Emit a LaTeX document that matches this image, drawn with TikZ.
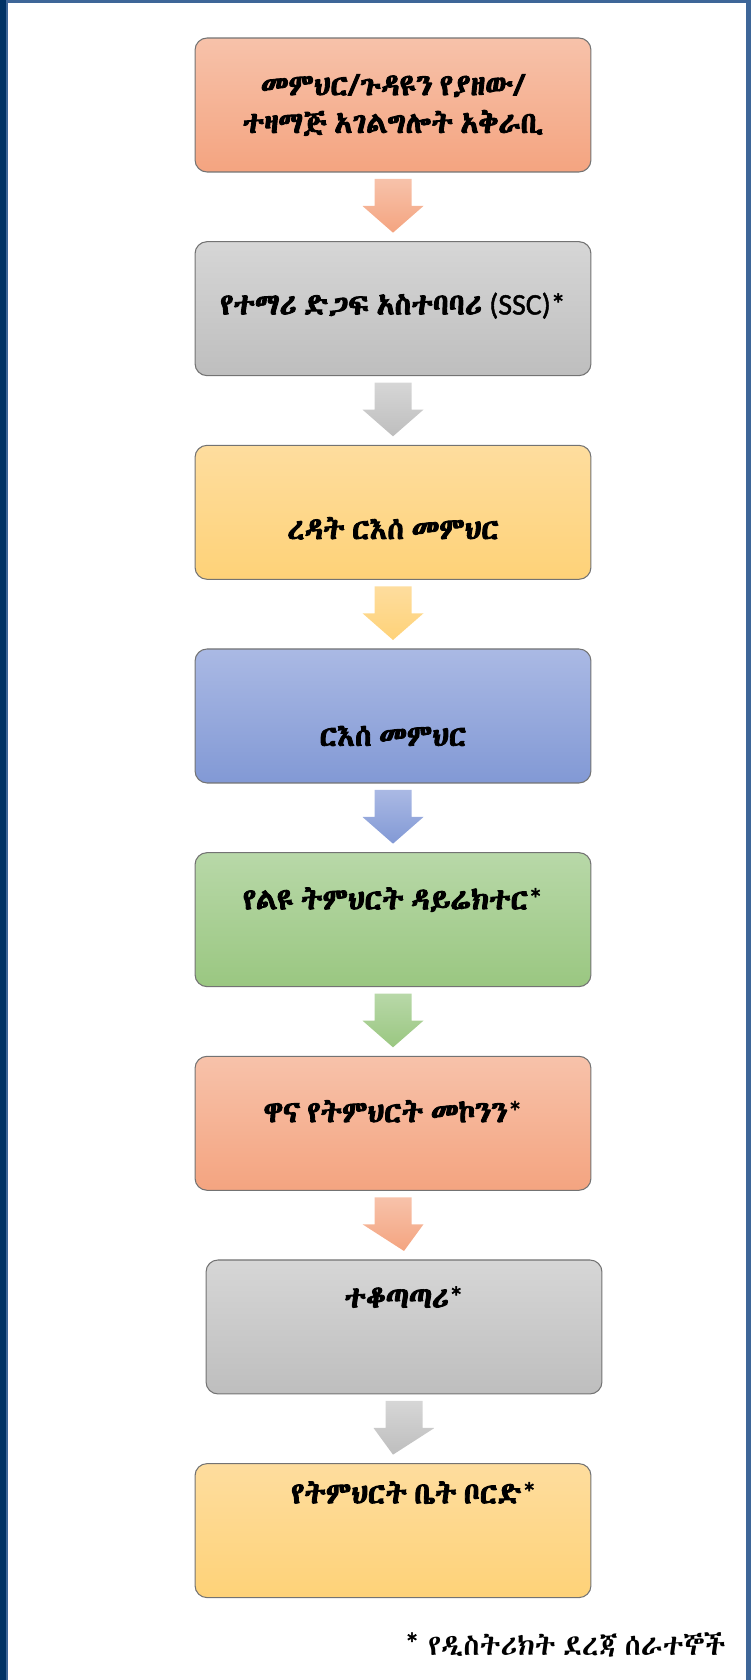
\documentclass[tikz,border=0pt]{standalone}
\usepackage{fontspec}
\usepackage{tikz}
\usetikzlibrary{positioning,calc}
\IfFontExistsTF{Abyssinica SIL}{%
  \newfontfamily\ethfont[AutoFakeBold=3,WordSpace=0.55]{Abyssinica SIL}}{%
  \IfFontExistsTF{FreeSerif}{%
    \newfontfamily\ethfont{FreeSerif}}{%
    \newfontfamily\ethfont{Noto Sans Ethiopic}}}
\newfontfamily\latinfont[FakeBold=1.6]{Carlito}

\definecolor{orangeA}{RGB}{247,194,170}
\definecolor{orangeB}{RGB}{244,164,128}
\definecolor{grayA}{RGB}{214,214,214}
\definecolor{grayB}{RGB}{190,190,190}
\definecolor{yellowA}{RGB}{254,221,158}
\definecolor{yellowB}{RGB}{254,210,120}
\definecolor{blueA}{RGB}{170,185,228}
\definecolor{blueB}{RGB}{130,153,213}
\definecolor{greenA}{RGB}{184,216,168}
\definecolor{greenB}{RGB}{154,199,129}
\definecolor{frameblue}{RGB}{62,102,152}
\definecolor{framenavy}{RGB}{0,50,100}

\tikzset{
  stepbox/.style={draw=gray!90!black, line width=0.6pt, rounded corners=0.24cm,
    minimum width=7.92cm, minimum height=2.68cm, outer sep=0pt,
    top color=#1A, bottom color=#1B},
  boxlabel/.style={font=\ethfont\bfseries\fontsize{17}{19.5}\selectfont, align=center},
  notetext/.style={font=\ethfont\fontsize{16.5}{19}\selectfont}
}

% block arrow between two boxes
\newcommand{\flowarrow}[3]{%
  \shade[top color=#3A, bottom color=#3B]
    ($(#1.south)+(-18.5,7)$) -- ($(#1.south)+(18.5,7)$) -- ($(#1.south)+(18.5,34)$)
    -- ($(#1.south)+(30.5,34)$) -- ($(#2.north)+(0,-9)$) -- ($(#1.south)+(-30.5,34)$)
    -- ($(#1.south)+(-18.5,34)$) -- cycle;}
\newcommand{\boldstar}{{\latinfont\mdseries *}}

\begin{document}
\begin{tikzpicture}[x=0.02cm,y=-0.02cm,node distance=1.394cm]
  \useasboundingbox (0,0) rectangle (751,1680);
  % frame
  \fill[frameblue] (0,0) rectangle (751,3);
  \fill[frameblue] (746,0) rectangle (751,1680);
  \fill[frameblue] (0,0) rectangle (8,1680);
  \fill[framenavy] (0,0) rectangle (6,1680);

  % boxes
  \node[stepbox=orange] (b1) at (393,105) {};
  \node[stepbox=gray, below=of b1] (b2) {};
  \node[stepbox=yellow, below=of b2] (b3) {};
  \node[stepbox=blue, below=of b3] (b4) {};
  \node[stepbox=green, below=of b4] (b5) {};
  \node[stepbox=orange, below=of b5] (b6) {};
  \node[stepbox=gray, below=of b6, xshift=0.22cm] (b7) {};
  \node[stepbox=yellow, below=of b7, xshift=-0.22cm] (b8) {};

  % texts
  \node[boxlabel] (t1) at (b1.center) {መምህር/ጉዳዩን የያዘው/\\[2pt]ተዛማጅ አገልግሎት አቅራቢ};
  \node[boxlabel] (t2) at ([yshift=0.06cm]b2.center) {የተማሪ ድጋፍ አስተባባሪ {\latinfont\mdseries (SSC)*}};
  \node[boxlabel] (t3) at ([yshift=-0.32cm]b3.center) {ረዳት ርእሰ መምህር};
  \node[boxlabel] (t4) at ([yshift=-0.4cm]b4.center) {ርእሰ መምህር};
  \node[boxlabel] (t5) at ([yshift=0.4cm]b5.center) {የልዩ ትምህርት ዳይሬክተር\boldstar};
  \node[boxlabel] (t6) at ([yshift=0.24cm]b6.center) {ዋና የትምህርት መኮንን\boldstar};
  \node[boxlabel] (t7) at ([yshift=0.6cm]b7.center) {ተቆጣጣሪ\boldstar};
  \node[boxlabel] (t8) at ([xshift=0.42cm,yshift=0.76cm]b8.center) {የትምህርት ቤት ቦርድ\boldstar};

  % arrows
  \flowarrow{b1}{b2}{orange}
  \flowarrow{b2}{b3}{gray}
  \flowarrow{b3}{b4}{yellow}
  \flowarrow{b4}{b5}{blue}
  \flowarrow{b5}{b6}{green}
  \flowarrow{b6}{b7}{orange}
  \flowarrow{b7}{b8}{gray}

  % footnote
  \node[notetext, anchor=east] (note) at (732,1645) {{\latinfont\LARGE\raisebox{0.05em}{*}}\hspace{5pt}የዲስትሪክት ደረጃ ሰራተኞች};
\end{tikzpicture}
\end{document}
